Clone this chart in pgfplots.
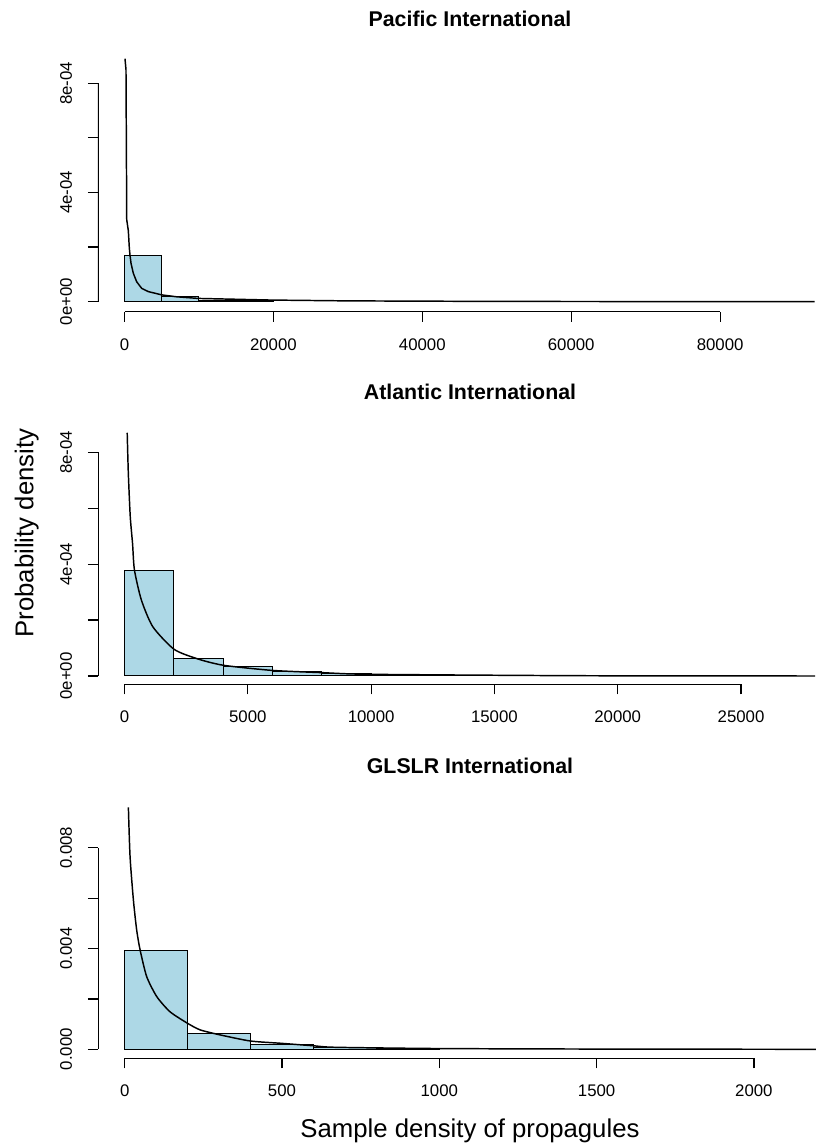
\documentclass[border=0pt]{standalone}
\usepackage{pgfplots}
\pgfplotsset{compat=1.18}
\usepackage{fontspec}
\setmainfont{Liberation Sans}
\definecolor{lb}{HTML}{ADD8E6}
\pgfplotsset{
  rstyle/.style={
    scale only axis, width=558pt, height=202.5pt, anchor=south west,
    axis x line*=bottom, axis y line*=left, axis line style={draw=none},
    tick align=outside, major tick length=7.5pt, minor tick num=0,
    tick style={black, line width=0.9pt},
    scaled x ticks=false, scaled y ticks=false,
    xticklabel style={font=\fontsize{12.6}{15}\selectfont, anchor=base, inner sep=0pt, yshift=-21.5pt},
    yticklabel style={font=\fontsize{12.6}{15}\selectfont, xshift=-12pt, rotate=90, anchor=base, inner sep=0pt},
    every axis title shift=0pt,
    title style={font=\bfseries\fontsize{16}{19}\selectfont, at={(axis description cs:0.5,1)}, anchor=base, yshift=11.25pt},
  },
  barstyle/.style={ybar interval, fill=lb, draw=black, line width=0.75pt},
  curvestyle/.style={black, line width=1.1pt},
}
\begin{document}
\begin{tikzpicture}[x=0.75pt,y=0.75pt]
\useasboundingbox (0,0) rectangle (830,1147);
% Panel 1
\begin{axis}[rstyle, at={(73.5pt,626.475pt)},
  title={Pacific International},
  xmin=-3560, xmax=96373, ymin=-0.366e-4, ymax=9.524e-4,
  xtick={0,20000,40000,60000,80000}, xticklabels={0,20000,40000,60000,80000},
  ytick={0,0.0002,0.0004,0.0006,0.0008}, yticklabels={0e+00,,4e-04,,8e-04}]
\addplot[barstyle] coordinates {(0,1.71e-4) (5000,0.18e-4) (10000,0.04e-4) (20000,0)};
\addplot[curvestyle] coordinates {(67,8.9e-4) (200,8.5e-4) (300,3.0e-4) (515,2.6e-4) (649,1.96e-4) (739,1.71e-4) (873,1.41e-4) (1186,1.04e-4) (1634,0.73e-4) (2306,0.49e-4) (3200,0.37e-4) (4990,0.25e-4) (6990,0.18e-4) (9910,0.12e-4) (19770,0.06e-4) (30000,0.03e-4) (50000,0.01e-4) (92680,0)};
\draw[line width=1pt] (axis cs:0,-0.366e-4) -- (axis cs:80000,-0.366e-4);
\draw[line width=1pt] (axis cs:-3560,0) -- (axis cs:-3560,0.0008);
\end{axis}
% Panel 2
\begin{axis}[rstyle, at={(73.5pt,347.025pt)},
  title={Atlantic International},
  xmin=-1075, xmax=29095, ymin=-0.297e-4, ymax=9.36e-4,
  xtick={0,5000,10000,15000,20000,25000}, xticklabels={0,5000,10000,15000,20000,25000},
  ytick={0,0.0002,0.0004,0.0006,0.0008}, yticklabels={0e+00,,4e-04,,8e-04}]
\addplot[barstyle] coordinates {(0,3.77e-4) (2000,0.62e-4) (4000,0.33e-4) (6000,0.17e-4) (8000,0.10e-4) (10000,0.015e-4) (18500,0)};
\addplot[curvestyle, smooth, tension=0.4] coordinates {(109,8.7e-4) (155,7.25e-4) (233,5.7e-4) (326,4.74e-4) (403,3.79e-4) (683,2.72e-4) (1148,1.76e-4) (2017,0.95e-4) (3010,0.6e-4) (4034,0.38e-4) (5990,0.2e-4) (8006,0.12e-4) (10000,0.06e-4) (18480,0.01e-4) (28000,0)};
\draw[line width=1pt] (axis cs:0,-0.297e-4) -- (axis cs:25000,-0.297e-4);
\draw[line width=1pt] (axis cs:-1075,0) -- (axis cs:-1075,0.0008);
\end{axis}
% Panel 3
\begin{axis}[rstyle, at={(73.5pt,66.525pt)},
  title={GLSLR International},
  xmin=-84.9, xmax=2280, ymin=-0.357e-3, ymax=10.36e-3,
  xtick={0,500,1000,1500,2000}, xticklabels={0,500,1000,1500,2000},
  ytick={0,0.002,0.004,0.006,0.008}, yticklabels={0.000,,0.004,,0.008}]
\addplot[barstyle] coordinates {(0,3.94e-3) (200,0.62e-3) (400,0.2e-3) (600,0.07e-3) (800,0.03e-3) (1000,0)};
\addplot[curvestyle, smooth, tension=0.4] coordinates {(11.7,9.6e-3) (17,7.65e-3) (27.6,5.93e-3) (38,4.74e-3) (49,3.94e-3) (70,2.88e-3) (102,2.09e-3) (144,1.49e-3) (200,1.03e-3) (240,0.77e-3) (304,0.57e-3) (399,0.33e-3) (495,0.24e-3) (600,0.14e-3) (670,0.08e-3) (1000,0.03e-3) (1500,0.01e-3) (2197,0)};
\draw[line width=1pt] (axis cs:0,-0.357e-3) -- (axis cs:2000,-0.357e-3);
\draw[line width=1pt] (axis cs:-84.9,0) -- (axis cs:-84.9,0.008);
\end{axis}
\node[rotate=90, anchor=base, inner sep=0pt, font=\fontsize{19.3}{23}\selectfont] at (33.4,614) {Probability density};
\node[anchor=base, inner sep=0pt, font=\fontsize{19.3}{23}\selectfont] at (470,9.7) {Sample density of propagules};
\end{tikzpicture}
\end{document}
